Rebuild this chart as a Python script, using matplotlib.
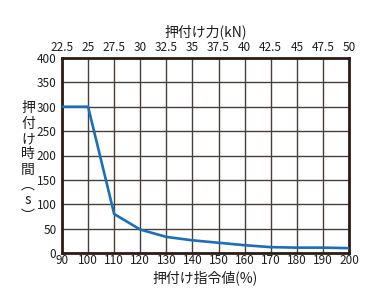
import matplotlib.pyplot as plt

plt.rcParams['font.family'] = ['Noto Sans CJK JP', 'DejaVu Sans']

command = [90, 100, 110, 120, 130, 140, 150, 160, 170, 180, 190, 200]
push_time = [300, 300, 80, 48, 33, 26, 21, 16, 12, 11, 11, 10]
force_labels = ["22.5", "25", "27.5", "30", "32.5", "35", "37.5",
                "40", "42.5", "45", "47.5", "50"]
y_ticks = [0, 50, 100, 150, 200, 250, 300, 350, 400]

frame = "#2b1d14"
grid = "#4a3e38"
text_c = "#1e1e1e"

fig = plt.figure(figsize=(3.75, 3.05), dpi=100)
ax = fig.add_axes([62 / 375, 1 - 253 / 305, 287 / 375, 195 / 305])

ax.plot(command, push_time, color="#1a6fb8", linewidth=1.9, zorder=3)

ax.set_xlim(90, 200)
ax.set_ylim(0, 400)
ax.set_xticks(command)
ax.set_yticks(y_ticks)
ax.grid(True, color=grid, linewidth=1.0)
ax.tick_params(axis="x", length=0, labelsize=8.5, colors=text_c, pad=1)
ax.tick_params(axis="y", length=0, labelsize=8.5, colors=text_c, pad=4)
for s in ax.spines.values():
    s.set_color(frame)
    s.set_linewidth(2.0)

ax.set_xlabel("押付け指令値(%)", fontsize=10, labelpad=2, color=text_c)

top = ax.twiny()
top.set_xlim(ax.get_xlim())
top.set_xticks(command)
top.set_xticklabels(force_labels)
top.tick_params(length=0, labelsize=8.5, colors=text_c, pad=3)
top.set_xlabel("押付け力(kN)", fontsize=10, labelpad=3, color=text_c)
for s in top.spines.values():
    s.set_visible(False)

fig.text(28 / 375, 1 - 162 / 305, "押\n付\nけ\n時\n間\n︵\ns\n︶",
         fontsize=10, ha="center", va="center", linespacing=1.12,
         color=text_c)

fig.savefig("out.png", dpi=100)
